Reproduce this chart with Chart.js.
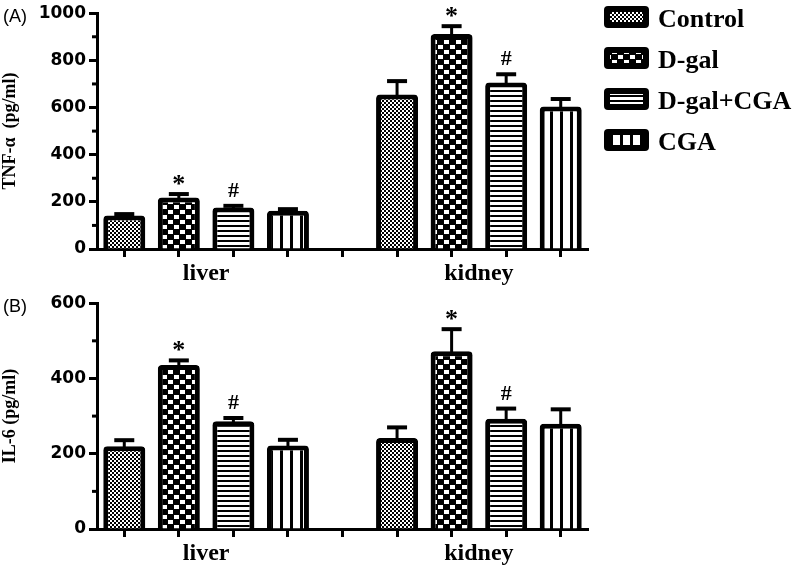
<!DOCTYPE html>
<html>
<head>
<meta charset="utf-8">
<script src="https://cdn.jsdelivr.net/npm/chart.js@4.4.1/dist/chart.umd.min.js"></script>
<style>
    html, body { margin: 0; padding: 0; background: #fff; }
    #wrap { position: relative; width: 800px; height: 566px; }
    .panel { position: absolute; left: 0; width: 800px; }
    #panel-a { top: 0; height: 290px; }
    #panel-b { top: 290px; height: 276px; }
</style>
</head>
<body>
<div id="wrap">
    <div class="panel" id="panel-a"><canvas id="chart-tnf"></canvas></div>
    <div class="panel" id="panel-b"><canvas id="chart-il6"></canvas></div>
</div>
<script>
const GROUPS = ['liver', 'kidney'];
const SERIES = ['Control', 'D-gal', 'D-gal+CGA', 'CGA'];
const MARKS  = ['', '*', '#', ''];

// TNF-α (pg/ml), one value per series
const tnfLiver     = [142, 218, 176, 162];
const tnfLiverErr  = [6, 15, 7, 7];
const tnfKidney    = [655, 912, 706, 604];
const tnfKidneyErr = [57, 33, 35, 32];
const tnfTicks     = [0, 200, 400, 600, 800, 1000];
const tnfMinor     = [100, 300, 500, 700, 900];

// IL-6 (pg/ml)
const il6Liver     = [220, 436, 286, 222];
const il6LiverErr  = [16, 12, 9, 15];
const il6Kidney    = [242, 472, 293, 280];
const il6KidneyErr = [28, 59, 27, 38];
const il6Ticks     = [0, 200, 400, 600];
const il6Minor     = [100, 300, 500];

// 4 liver bars, one empty slot, 4 kidney bars
const SLOTS = 9;
const KIDNEY_START = 5;

function tile(w, h, draw) {
    const c = document.createElement('canvas');
    c.width = w; c.height = h;
    const g = c.getContext('2d');
    draw(g);
    return g.createPattern(c, 'repeat');
}

const PATTERNS = [
    tile(4, 4, g => {           // fine dots
        g.fillStyle = '#000'; g.fillRect(0, 0, 4, 4);
        g.fillStyle = '#fff'; g.fillRect(0, 0, 2, 2); g.fillRect(2, 2, 2, 2);
    }),
    tile(12, 10, g => {         // coarse checker
        g.fillStyle = '#000'; g.fillRect(0, 0, 12, 10);
        g.fillStyle = '#fff'; g.fillRect(0, 0, 5, 4); g.fillRect(6, 5, 5, 4);
    }),
    tile(4, 5, g => {           // horizontal stripes
        g.fillStyle = '#fff'; g.fillRect(0, 0, 4, 5);
        g.fillStyle = '#000'; g.fillRect(0, 0, 4, 2);
    }),
    tile(10, 4, g => {          // vertical stripes
        g.fillStyle = '#fff'; g.fillRect(0, 0, 10, 4);
        g.fillStyle = '#000'; g.fillRect(0, 0, 3, 4);
    }),
];

function buildDatasets(liver, liverErr, kidney, kidneyErr) {
    return SERIES.map((name, s) => {
        const data = new Array(SLOTS).fill(null);
        const err  = new Array(SLOTS).fill(0);
        const marks = new Array(SLOTS).fill('');
        data[s] = liver[s];                 err[s] = liverErr[s];                 marks[s] = MARKS[s];
        data[KIDNEY_START + s] = kidney[s]; err[KIDNEY_START + s] = kidneyErr[s]; marks[KIDNEY_START + s] = MARKS[s];
        return {
            label: name,
            data, err, marks,
            backgroundColor: PATTERNS[s],
            borderColor: '#000',
            borderWidth: 5,
            borderSkipped: 'bottom',
            borderRadius: 4,
            grouped: false,
            barPercentage: 0.77,
            categoryPercentage: 1,
        };
    });
}

// error bars + significance marks
const errorBars = {
    id: 'errorBars',
    afterDatasetsDraw(chart) {
        const { ctx } = chart;
        const y = chart.scales.y;
        ctx.save();
        ctx.strokeStyle = '#000';
        ctx.fillStyle = '#000';
        chart.data.datasets.forEach((ds, di) => {
            const meta = chart.getDatasetMeta(di);
            ds.data.forEach((v, i) => {
                if (v == null) return;
                const bar = meta.data[i];
                const top = y.getPixelForValue(v + ds.err[i]);
                ctx.lineWidth = 3;
                ctx.beginPath(); ctx.moveTo(bar.x, bar.y + 2); ctx.lineTo(bar.x, top); ctx.stroke();
                ctx.lineWidth = 4;
                ctx.beginPath(); ctx.moveTo(bar.x - 10, top); ctx.lineTo(bar.x + 10, top); ctx.stroke();
                const mark = ds.marks[i];
                if (mark) {
                    const star = mark === '*';
                    ctx.font = `bold ${star ? 26 : 22}px "Liberation Serif"`;
                    ctx.textAlign = 'center';
                    ctx.textBaseline = 'alphabetic';
                    ctx.fillText(mark, bar.x, top - (star ? 2 : 9));
                }
            });
        });
        ctx.restore();
    },
};

// group names, minor y ticks, panel letter, legend
const decorations = {
    id: 'decorations',
    afterDraw(chart, args, opts) {
        const { ctx, chartArea } = chart;
        const x = chart.scales.x;
        const y = chart.scales.y;
        ctx.save();
        ctx.fillStyle = '#000';
        ctx.strokeStyle = '#000';

        ctx.font = 'bold 24px "Liberation Serif"';
        ctx.textAlign = 'center';
        ctx.textBaseline = 'alphabetic';
        GROUPS.forEach((g, gi) => {
            const first = gi * KIDNEY_START;
            const cx = (x.getPixelForValue(first + 1) + x.getPixelForValue(first + 2)) / 2;
            ctx.fillText(g, cx, chartArea.bottom + 31);
        });

        ctx.lineWidth = 3;
        opts.minor.forEach(v => {
            const py = y.getPixelForValue(v);
            ctx.beginPath(); ctx.moveTo(chartArea.left - 5, py); ctx.lineTo(chartArea.left, py); ctx.stroke();
        });

        ctx.font = '18px "Liberation Sans"';
        ctx.textAlign = 'left';
        ctx.fillText(opts.letter, 3, 22);

        if (opts.legend) {
            const bx = chartArea.right + 16;
            chart.data.datasets.forEach((ds, i) => {
                const by = 6 + i * 41;
                ctx.fillStyle = '#000';
                ctx.beginPath(); ctx.roundRect(bx, by, 45, 22, 4); ctx.fill();
                ctx.fillStyle = ds.backgroundColor;
                ctx.fillRect(bx + 6, by + 6, 33, 10);
                ctx.fillStyle = '#000';
                ctx.font = 'bold 26px "Liberation Serif"';
                ctx.fillText(ds.label, bx + 54, by + 21);
            });
        }
        ctx.restore();
    },
};

function chartOpts({ max, ticks, title, xHeight, minor, letter, legend }) {
    return {
        responsive: true,
        maintainAspectRatio: false,
        animation: false,
        layout: { padding: { top: 12, right: 212, left: 0, bottom: 0 } },
        plugins: {
            legend: { display: false },
            tooltip: { enabled: false },
            decorations: { minor, letter, legend },
        },
        scales: {
            x: {
                offset: true,
                grid: { drawOnChartArea: false, offset: false, tickLength: 8, tickWidth: 3, tickColor: '#000' },
                border: { color: '#000', width: 3 },
                ticks: { autoSkip: false, display: false },
                afterFit(scale) { scale.height = xHeight; },
            },
            y: {
                min: 0,
                max,
                afterBuildTicks(scale) { scale.ticks = ticks.map(v => ({ value: v })); },
                ticks: {
                    color: '#000', padding: 3,
                    font: { family: 'DejaVu Sans', weight: 'bold', size: 17 },
                    callback: v => String(v),
                },
                grid: { drawOnChartArea: false, tickLength: 8, tickWidth: 3, tickColor: '#000' },
                border: { color: '#000', width: 3 },
                title: {
                    display: true, text: title, color: '#000',
                    font: { family: 'Liberation Serif', weight: 'bold', size: 18 },
                    padding: { top: 0, bottom: 4 },
                },
                afterFit(scale) { scale.width = 97; },
            },
        },
    };
}

const slotLabels = new Array(SLOTS).fill('');

new Chart(document.getElementById('chart-tnf'), {
    type: 'bar',
    data: { labels: slotLabels, datasets: buildDatasets(tnfLiver, tnfLiverErr, tnfKidney, tnfKidneyErr) },
    options: chartOpts({ max: 1000, ticks: tnfTicks, title: 'TNF-α  (pg/ml)', xHeight: 41, minor: tnfMinor, letter: '(A)', legend: true }),
    plugins: [errorBars, decorations],
});

new Chart(document.getElementById('chart-il6'), {
    type: 'bar',
    data: { labels: slotLabels, datasets: buildDatasets(il6Liver, il6LiverErr, il6Kidney, il6KidneyErr) },
    options: chartOpts({ max: 600, ticks: il6Ticks, title: 'IL-6 (pg/ml)', xHeight: 37, minor: il6Minor, letter: '(B)', legend: false }),
    plugins: [errorBars, decorations],
});
</script>
</body>
</html>
